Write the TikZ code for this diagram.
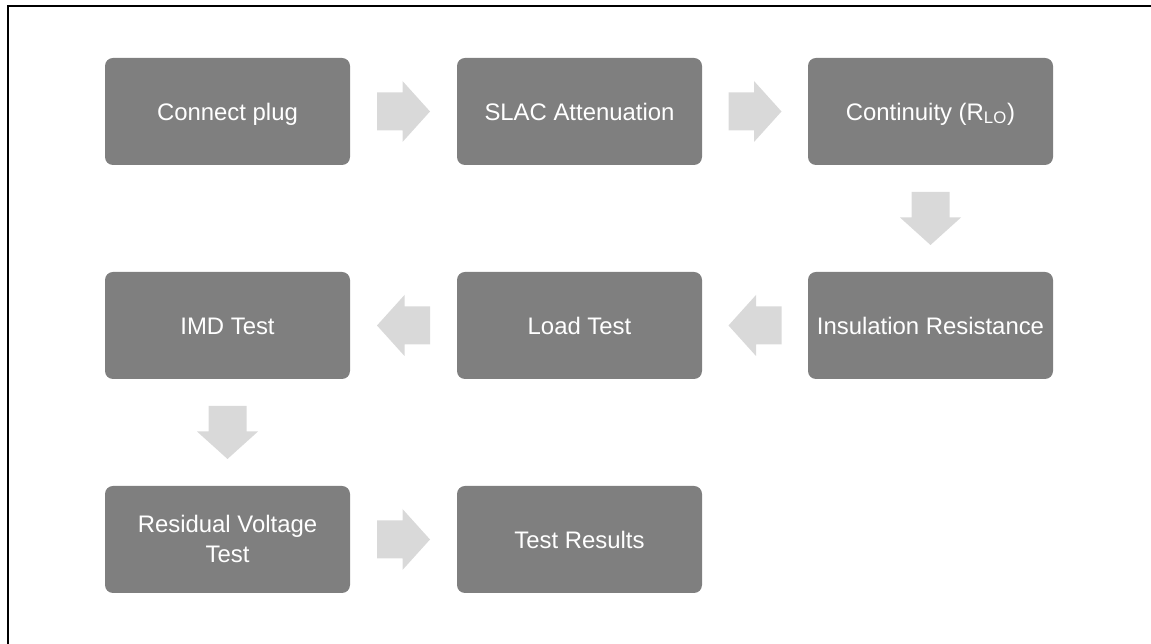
\documentclass[tikz,border=0pt]{standalone}
\usepackage{fontspec}
\setmainfont{Liberation Sans}
\usepackage{tikz}
\usetikzlibrary{calc}
\definecolor{boxgray}{HTML}{7F7F7F}
\definecolor{arrowgray}{HTML}{D9D9D9}
\tikzset{stepbox/.style={fill=boxgray,rounded corners=0.16cm,minimum width=4.9cm,minimum height=2.14cm,text=white,align=center,inner sep=0pt,font=\fontsize{13.6}{17.1}\selectfont,text height=9.7pt,text depth=0pt}}
\tikzset{flowarrow/.pic={\fill[arrowgray] (-0.53,0.38) -- (-0.02,0.38) -- (-0.02,0.61) -- (0.53,0) -- (-0.02,-0.61) -- (-0.02,-0.38) -- (-0.53,-0.38) -- cycle;}}

\begin{document}
\begin{tikzpicture}
\useasboundingbox (0,0) rectangle (23.02,12.88);
\draw[line width=1.1pt] (0.16,0) -- (0.16,12.76) -- (23.02,12.76);

% first row
\node[stepbox] (plug) at (4.55,10.65) {Connect plug};
\node[stepbox] (slac) at (11.59,10.65) {SLAC Attenuation};
\node[stepbox] (cont) at (18.61,10.65) {Continuity (R\textsubscript{LO})};

% second row
\node[stepbox] (imd) at (4.55,6.37) {IMD Test};
\node[stepbox] (load) at (11.59,6.37) {Load Test};
\node[stepbox] (insul) at (18.61,6.37) {Insulation Resistance};

% third row
\node[stepbox,text height=26.2pt] (resid) at (4.55,2.09) {Residual Voltage\\Test};
\node[stepbox] (result) at (11.59,2.09) {Test Results};

\path ($(plug.east)!0.5!(slac.west)$) pic {flowarrow};
\path ($(slac.east)!0.5!(cont.west)$) pic {flowarrow};
\path ($(cont.south)!0.5!(insul.north)$) pic[rotate=-90] {flowarrow};
\path ($(insul.west)!0.5!(load.east)$) pic[rotate=180] {flowarrow};
\path ($(load.west)!0.5!(imd.east)$) pic[rotate=180] {flowarrow};
\path ($(imd.south)!0.5!(resid.north)$) pic[rotate=-90] {flowarrow};
\path ($(resid.east)!0.5!(result.west)$) pic {flowarrow};

\end{tikzpicture}
\end{document}
